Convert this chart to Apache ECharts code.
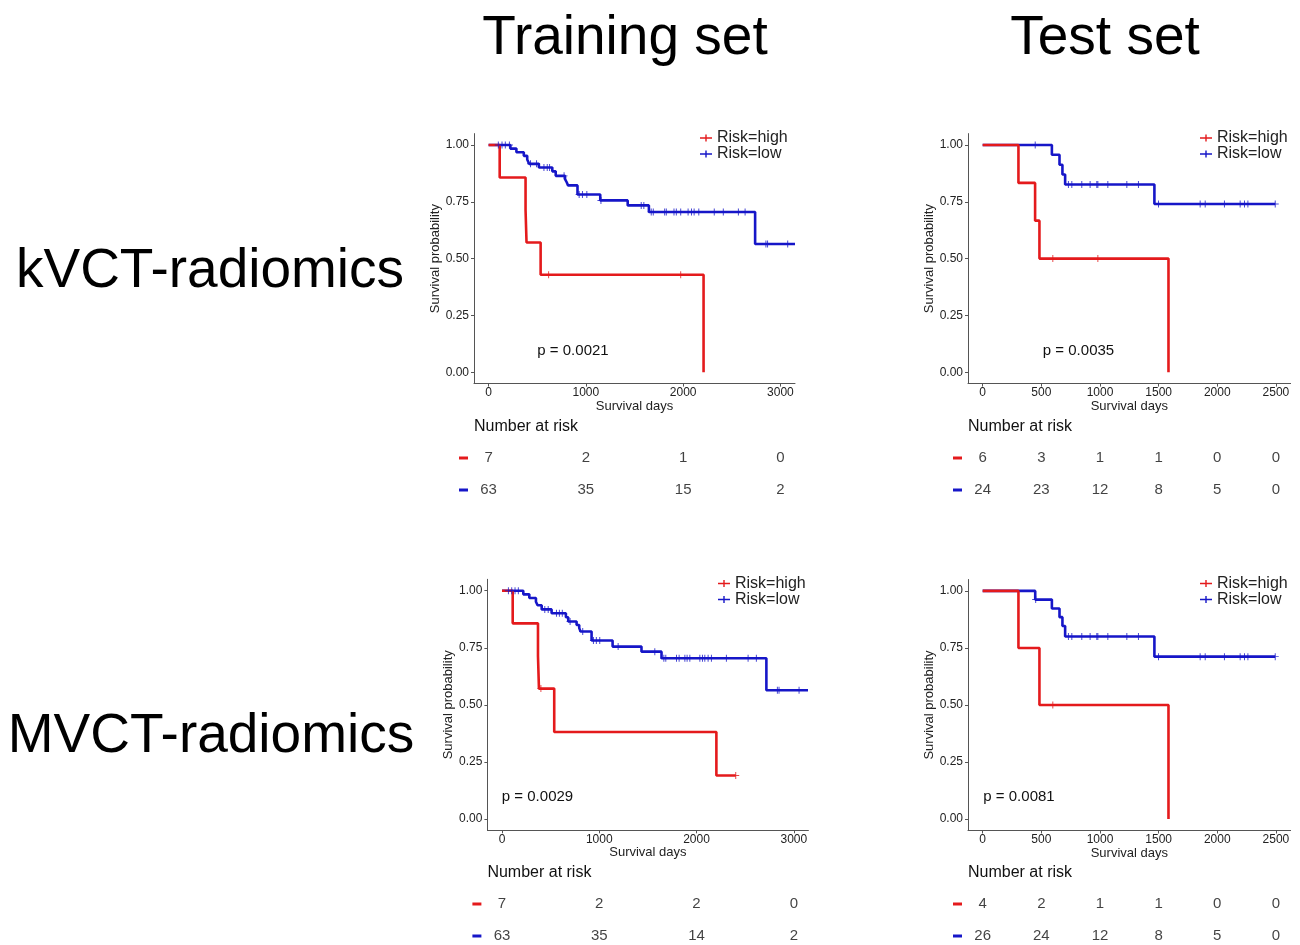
<!DOCTYPE html>
<html><head><meta charset="utf-8">
<script src="https://cdn.jsdelivr.net/npm/echarts@6.0.0/dist/echarts.min.js"></script>
<style>html,body{margin:0;padding:0;background:#fff}#c{width:1300px;height:945px}</style>
</head><body><div id="c"></div><script>
// ---------------- DATA ----------------
const columnTitles = ['Training set', 'Test set'];
const rowTitles = ['kVCT-radiomics', 'MVCT-radiomics'];
const groupNames = ['Risk=high', 'Risk=low'];
const pValues = ['p = 0.0021', 'p = 0.0035', 'p = 0.0029', 'p = 0.0081'];

const yTicks = [0, 0.25, 0.5, 0.75, 1];
const xTicksTrain = [0, 1000, 2000, 3000];
const xTicksTest = [0, 500, 1000, 1500, 2000, 2500];

// KM step curves [day, survival]
const kvTrainHigh = [[0,1],[114,0.857],[380,0.714],[390,0.571],[535,0.429],[2210,0]];
const kvTrainHighCensor = [617, 1975];
const kvTrainLow = [[0,1],[224,0.984],[286,0.968],[362,0.952],[397,0.936],[417,0.917],[517,0.901],[655,0.884],[690,0.864],[786,0.850],[803,0.836],[817,0.822],[914,0.782],[1148,0.756],[1430,0.734],[1648,0.705],[2740,0.564],[3150,0.564]];
const kvTrainLowCensor = [100,138,172,214,431,493,569,603,627,776,931,965,1010,1155,1569,1596,1672,1693,1810,1827,1906,1930,1975,2051,2086,2113,2161,2320,2413,2568,2637,2851,2868,3075];

const kvTestHigh = [[0,1],[305,0.833],[447,0.667],[484,0.5],[1584,0]];
const kvTestHighCensor = [598, 982];
const kvTestLow = [[0,1],[590,0.957],[655,0.913],[680,0.870],[703,0.826],[1464,0.740],[2494,0.740]];
const kvTestLowCensor = [448,731,760,845,916,973,982,1067,1229,1328,1499,1854,1897,2061,2195,2232,2261,2494];

const mvTrainHigh = [[0,1],[110,0.857],[370,0.714],[380,0.571],[537,0.381],[2204,0.190],[2403,0.190]];
const mvTrainHighCensor = [400, 2403];
const mvTrainLow = [[0,1],[219,0.984],[281,0.968],[349,0.952],[366,0.936],[408,0.918],[510,0.901],[657,0.884],[681,0.865],[767,0.850],[794,0.836],[808,0.821],[921,0.782],[1137,0.755],[1434,0.733],[1640,0.704],[2718,0.564],[3146,0.564]];
const mvTrainLowCensor = [66,100,134,168,440,475,560,590,620,700,830,940,970,1005,1194,1571,1664,1684,1794,1821,1880,1903,1931,2034,2061,2085,2119,2153,2307,2530,2615,2831,2848,3054];

const mvTestHigh = [[0,1],[305,0.75],[484,0.5],[1584,0]];
const mvTestHighCensor = [598];
const mvTestLow = [[0,1],[448,0.962],[590,0.923],[655,0.885],[680,0.846],[703,0.800],[1464,0.712],[2494,0.712]];
const mvTestLowCensor = [452,731,760,845,916,973,982,1067,1229,1328,1499,1854,1897,2061,2195,2232,2261,2494];

// Number at risk tables
const kvTrainRiskHigh = [7, 2, 1, 0];
const kvTrainRiskLow = [63, 35, 15, 2];
const kvTestRiskHigh = [6, 3, 1, 1, 0, 0];
const kvTestRiskLow = [24, 23, 12, 8, 5, 0];
const mvTrainRiskHigh = [7, 2, 2, 0];
const mvTrainRiskLow = [63, 35, 14, 2];
const mvTestRiskHigh = [4, 2, 1, 1, 0, 0];
const mvTestRiskLow = [26, 24, 12, 8, 5, 0];

// ---------------- STYLE / LAYOUT ----------------
const FONT = "'Liberation Sans', Arial, Helvetica, sans-serif";
const RED = '#e41a1c', BLUE = '#1616c8';
const AXIS = '#555', TXT = '#222';
const PLUS = 'path://M4.3,0L5.7,0L5.7,10L4.3,10Z M0,4.3L10,4.3L10,5.7L0,5.7Z';
const LEG_ICON = 'path://M0,4.2L12,4.2L12,5.8L0,5.8Z M5.3,1.5L6.7,1.5L6.7,8.5L5.3,8.5Z';

const panels = [
  {high: kvTrainHigh, low: kvTrainLow, hc: kvTrainHighCensor, lc: kvTrainLowCensor, rt: xTicksTrain, rh: kvTrainRiskHigh, rl: kvTrainRiskLow, ticks: xTicksTrain, p: pValues[0],
   grid:{left:474, top:133.6, width:321, height:250}, xMin:-150, xMax:3150, tableTop:442, header:427, pPos:[573,351], leg:{left:700, top:130}},
  {high: kvTestHigh, low: kvTestLow, hc: kvTestHighCensor, lc: kvTestLowCensor, rt: xTicksTest, rh: kvTestRiskHigh, rl: kvTestRiskLow, ticks: xTicksTest, p: pValues[1],
   grid:{left:968, top:133.6, width:322.6, height:250}, xMin:-125, xMax:2625, tableTop:442, header:427, pPos:[1078.5,351], leg:{left:1200, top:130}},
  {high: mvTrainHigh, low: mvTrainLow, hc: mvTrainHighCensor, lc: mvTrainLowCensor, rt: xTicksTrain, rh: mvTrainRiskHigh, rl: mvTrainRiskLow, ticks: xTicksTrain, p: pValues[2],
   grid:{left:487.4, top:579.3, width:321, height:251}, xMin:-150, xMax:3150, tableTop:888, header:873, pPos:[537.5,797], leg:{left:718, top:575.5}},
  {high: mvTestHigh, low: mvTestLow, hc: mvTestHighCensor, lc: mvTestLowCensor, rt: xTicksTest, rh: mvTestRiskHigh, rl: mvTestRiskLow, ticks: xTicksTest, p: pValues[3],
   grid:{left:968, top:579.5, width:322.6, height:251}, xMin:-125, xMax:2625, tableTop:888, header:873, pPos:[1019,797], leg:{left:1200, top:575.5}}
];

function survAt(curve, t) {
  let s = curve[0][1];
  for (const [x, y] of curve) { if (x <= t) s = y; else break; }
  return s;
}

const grids = [], xAxes = [], yAxes = [], series = [], legends = [], graphics = [];

panels.forEach((P, i) => {
  grids.push(Object.assign({outerBoundsMode: 'none', containLabel: false}, P.grid));
  xAxes.push({
    type: 'value', gridIndex: i, min: P.xMin, max: P.xMax,
    name: 'Survival days', nameLocation: 'middle', nameGap: 16,
    nameTextStyle: {fontFamily: FONT, fontSize: 13, color: TXT},
    axisLine: {show: true, onZero: false, lineStyle: {color: AXIS, width: 1}},
    axisTick: {show: true, length: 3, lineStyle: {color: AXIS}, customValues: P.ticks},
    axisLabel: {show: true, margin: 3, fontFamily: FONT, fontSize: 12, color: TXT, customValues: P.ticks, formatter: v => String(v)},
    splitLine: {show: false}
  });
  yAxes.push({
    type: 'value', gridIndex: i, min: -0.05, max: 1.05,
    name: 'Survival probability', nameLocation: 'middle', nameGap: 32,
    nameTextStyle: {fontFamily: FONT, fontSize: 13, color: TXT},
    axisLine: {show: true, onZero: false, lineStyle: {color: AXIS, width: 1}},
    axisTick: {show: true, length: 3, lineStyle: {color: AXIS}, customValues: yTicks},
    axisLabel: {show: true, margin: 5, fontFamily: FONT, fontSize: 12, color: TXT, customValues: yTicks, formatter: v => v.toFixed(2)},
    splitLine: {show: false}
  });
  const mk = (name, data, color) => ({
    type: 'line', name, data, step: 'end', xAxisIndex: i, yAxisIndex: i,
    showSymbol: false, symbol: 'none', color, itemStyle: {color},
    lineStyle: {color, width: 2.6}, silent: true, animation: false, z: 3
  });
  const cens = (name, times, curve, color) => ({
    type: 'scatter', name, xAxisIndex: i, yAxisIndex: i, symbol: PLUS, symbolSize: 7,
    itemStyle: {color}, silent: true, animation: false, z: 4,
    data: times.map(t => [t, survAt(curve, t)])
  });
  series.push(mk(groupNames[1], P.low, BLUE));
  series.push(mk(groupNames[0], P.high, RED));
  series.push(cens('censor-low-' + i, P.lc, P.low, BLUE));
  series.push(cens('censor-high-' + i, P.hc, P.high, RED));

  legends.push({
    orient: 'vertical', left: P.leg.left, top: P.leg.top, padding: 0, itemGap: 0,
    itemWidth: 12, itemHeight: 10, selectedMode: false,
    textStyle: {fontFamily: FONT, fontSize: 16, color: TXT, lineHeight: 15},
    data: [{name: groupNames[0], icon: LEG_ICON}, {name: groupNames[1], icon: LEG_ICON}]
  });

  graphics.push({type: 'text', x: P.pPos[0], y: P.pPos[1],
    style: {text: P.p, fontFamily: FONT, fontSize: 15, fill: '#111', align: 'center', verticalAlign: 'middle'}});
  graphics.push({type: 'text', x: P.grid.left, y: P.header,
    style: {text: 'Number at risk', fontFamily: FONT, fontSize: 16, fill: '#111', align: 'left', verticalAlign: 'middle'}});
});

// risk table grids (share the x range of their plot)
panels.forEach((P, i) => {
  const gi = 4 + i;
  grids.push({outerBoundsMode: 'none', containLabel: false, left: P.grid.left, width: P.grid.width, top: P.tableTop, height: 64});
  xAxes.push({type: 'value', gridIndex: gi, min: P.xMin, max: P.xMax, show: false});
  yAxes.push({
    type: 'category', gridIndex: gi, data: ['high', 'low'], inverse: true,
    axisLine: {show: false}, axisTick: {show: false}, splitLine: {show: false},
    axisLabel: {show: true, margin: 6, formatter: v => v === 'high' ? '{h| }' : '{l| }',
      rich: {h: {backgroundColor: RED, width: 9, height: 3, fontSize: 3}, l: {backgroundColor: BLUE, width: 9, height: 3, fontSize: 3}}}
  });
  const row = (key, vals) => ({
    type: 'scatter', name: 'risk-' + key + '-' + i, xAxisIndex: gi, yAxisIndex: gi,
    symbolSize: 1, itemStyle: {color: 'rgba(0,0,0,0)'}, silent: true, animation: false,
    label: {show: true, position: 'inside', formatter: p => String(p.value[2]), fontFamily: FONT, fontSize: 15, color: '#111'},
    data: P.rt.map((t, k) => [t, key, vals[k]])
  });
  series.push(row('high', P.rh));
  series.push(row('low', P.rl));
});

// big titles
graphics.push({type: 'text', x: 625, y: 38.5, style: {text: columnTitles[0], fontFamily: FONT, fontSize: 55, fill: '#000', align: 'center', verticalAlign: 'middle'}});
graphics.push({type: 'text', x: 1105, y: 38.5, style: {text: columnTitles[1], fontFamily: FONT, fontSize: 55, fill: '#000', align: 'center', verticalAlign: 'middle'}});
graphics.push({type: 'text', x: 210, y: 272, style: {text: rowTitles[0], fontFamily: FONT, fontSize: 55, fill: '#000', align: 'center', verticalAlign: 'middle'}});
graphics.push({type: 'text', x: 211, y: 737, style: {text: rowTitles[1], fontFamily: FONT, fontSize: 55, fill: '#000', align: 'center', verticalAlign: 'middle'}});

const chart = echarts.init(document.getElementById('c'), null, {renderer: 'canvas'});
chart.setOption({
  backgroundColor: '#fff', animation: false,
  grid: grids, xAxis: xAxes, yAxis: yAxes, series, legend: legends,
  graphic: {elements: graphics}
});
</script></body></html>
